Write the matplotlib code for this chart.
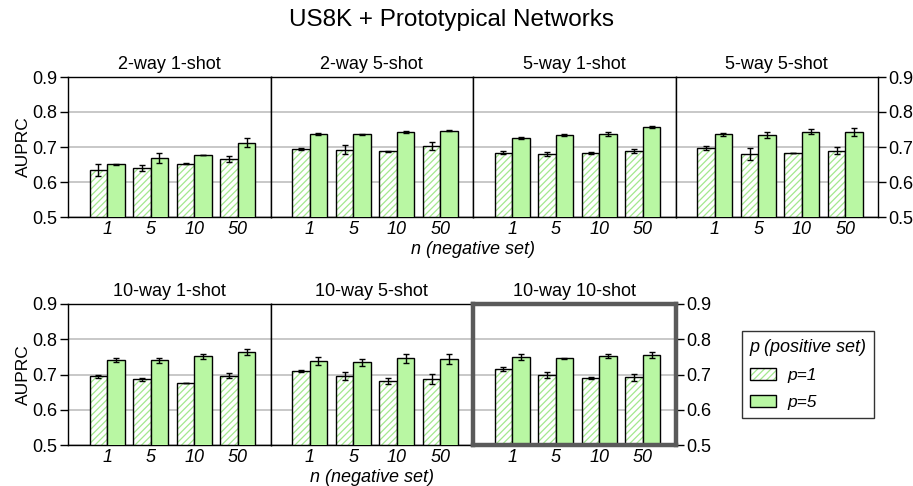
import matplotlib
matplotlib.use('Agg')
import matplotlib.pyplot as plt
from matplotlib.patches import Patch
import numpy as np

plt.rcParams['font.family'] = ['Liberation Sans', 'DejaVu Sans']
plt.rcParams['hatch.linewidth'] = 0.9

n_labels = ['1', '5', '10', '50']
panels = ['2-way 1-shot', '2-way 5-shot', '5-way 1-shot', '5-way 5-shot',
          '10-way 1-shot', '10-way 5-shot', '10-way 10-shot']

# AUPRC means and error bar half-widths, one row per panel, one column per n
p1_mean = [[0.634, 0.640, 0.652, 0.666],
           [0.694, 0.692, 0.688, 0.703],
           [0.684, 0.679, 0.683, 0.688],
           [0.697, 0.681, 0.683, 0.690],
           [0.695, 0.686, 0.676, 0.697],
           [0.710, 0.695, 0.682, 0.688],
           [0.715, 0.698, 0.690, 0.692]]
p1_err = [[0.016, 0.008, 0.002, 0.009],
          [0.002, 0.013, 0.001, 0.011],
          [0.005, 0.006, 0.002, 0.005],
          [0.006, 0.017, 0.001, 0.009],
          [0.005, 0.005, 0.001, 0.008],
          [0.004, 0.011, 0.008, 0.014],
          [0.005, 0.009, 0.002, 0.010]]
p5_mean = [[0.650, 0.668, 0.677, 0.712],
           [0.738, 0.736, 0.744, 0.747],
           [0.726, 0.733, 0.737, 0.757],
           [0.736, 0.734, 0.744, 0.742],
           [0.741, 0.741, 0.752, 0.763],
           [0.738, 0.735, 0.746, 0.744],
           [0.749, 0.746, 0.752, 0.755]]
p5_err = [[0.002, 0.015, 0.001, 0.013],
          [0.003, 0.002, 0.003, 0.002],
          [0.003, 0.003, 0.005, 0.004],
          [0.005, 0.008, 0.008, 0.011],
          [0.005, 0.007, 0.007, 0.009],
          [0.011, 0.010, 0.012, 0.015],
          [0.008, 0.002, 0.005, 0.008]]

green = '#b9f7a3'
hatch_green = '#a3e88e'
W, H = 913., 486.

fig = plt.figure(figsize=(W / 100, H / 100), dpi=100)


def px_axes(x0, y_top, w, h):
    return fig.add_axes([x0 / W, 1 - (y_top + h) / H, w / W, h / H])


pw = 202.5
axes = []
for i in range(4):
    axes.append(px_axes(68 + i * pw, 77, pw, 140))
for i in range(3):
    axes.append(px_axes(68 + i * pw, 304, pw, 141))

x = np.arange(len(n_labels))
bw = 0.4
for k, ax in enumerate(axes):
    ax.yaxis.grid(True, color='#c4c4c4', lw=1.3)
    ax.set_axisbelow(True)
    # p=1: green hatch on white, black outline on top
    ax.bar(x - bw / 2, p1_mean[k], bw, color='white', edgecolor=hatch_green,
           hatch='/////', lw=0, zorder=2)
    ax.bar(x - bw / 2, p1_mean[k], bw, fill=False, edgecolor='black',
           lw=1.0, zorder=3)
    ax.bar(x + bw / 2, p5_mean[k], bw, color=green, edgecolor='black',
           lw=1.0, zorder=3)
    ax.errorbar(x - bw / 2, p1_mean[k], yerr=p1_err[k], fmt='none',
                ecolor='black', elinewidth=1, capsize=2.2, capthick=1, zorder=4)
    ax.errorbar(x + bw / 2, p5_mean[k], yerr=p5_err[k], fmt='none',
                ecolor='black', elinewidth=1, capsize=2.2, capthick=1, zorder=4)
    ax.set_ylim(0.5, 0.9)
    ax.set_xlim(-0.9, 3.75)
    ax.set_yticks([0.5, 0.6, 0.7, 0.8, 0.9])
    ax.set_xticks(x)
    ax.set_xticklabels(n_labels, fontsize=13, style='italic')
    ax.tick_params(axis='x', length=0, pad=3)
    ax.set_title(panels[k], fontsize=13, pad=6)
    for s in ax.spines.values():
        s.set_linewidth(1.0)
    first = k in (0, 4)
    last = k in (3, 6)
    ax.tick_params(axis='y', direction='out', length=6, width=1, pad=1.5,
                   labelsize=13, left=first, labelleft=first,
                   right=last, labelright=last)
    if first:
        ax.set_ylabel('AUPRC', fontsize=12.5, labelpad=1)

hl = axes[6]
for s in hl.spines.values():
    s.set_linewidth(3.2)
    s.set_color('#5a5a5a')
    s.set_zorder(5)

fig.text((68 + 2 * pw) / W, 1 - 250 / H, 'n (negative set)', ha='center',
         va='center', fontsize=13, style='italic')
fig.text((68 + 1.5 * pw) / W, 1 - 477 / H, 'n (negative set)', ha='center',
         va='center', fontsize=13, style='italic')
fig.suptitle('US8K + Prototypical Networks', x=0.494, y=1 - 20 / H,
             va='center', fontsize=17.5)

# legend
h_p1 = (Patch(facecolor='white', edgecolor=hatch_green, hatch='/////', lw=0),
        Patch(fill=False, edgecolor='black', lw=1))
h_p5 = Patch(facecolor=green, edgecolor='black', lw=1)
leg = fig.legend([h_p1, h_p5], ['p=1', 'p=5'], title='p (positive set)',
                 loc='center', bbox_to_anchor=(808 / W, 1 - 374.5 / H),
                 fontsize=12.5, title_fontsize=13, frameon=True,
                 fancybox=False, edgecolor='black', handlelength=1.5,
                 handleheight=0.7, handletextpad=0.7, borderpad=0.45,
                 labelspacing=0.7, borderaxespad=0, alignment='left')
leg.get_title().set_style('italic')
for t in leg.get_texts():
    t.set_style('italic')
leg.get_frame().set_linewidth(1.0)

fig.savefig('out.png', dpi=100)
